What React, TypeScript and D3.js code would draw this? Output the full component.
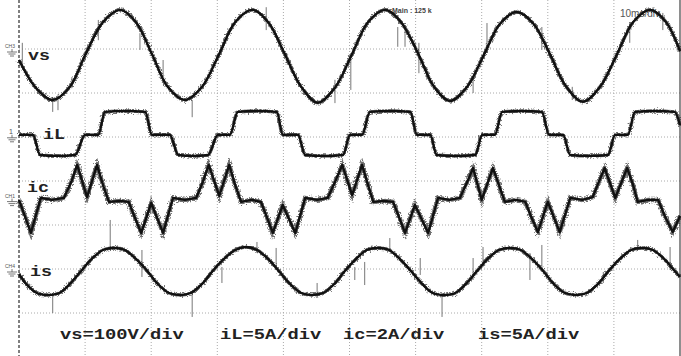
import React from 'react';
import * as d3 from 'd3';

// time in ms (10 ms/div), values in each channel's own unit
const vsData: [number, number][] = [
  [0, -25], [2.6, -89], [5.1, -116], [7.7, -86], [10.1, -11], [12.7, 61], [15.3, 89],
  [17.7, 61], [20.1, -11], [22.5, -86], [25.1, -116], [27.7, -86], [30.3, -11], [32.7, 61],
  [35.3, 89], [37.7, 61], [40.2, -11], [42.7, -86], [45.2, -122], [47.8, -88], [50.4, -11],
  [52.8, 61], [55.4, 89], [57.8, 61], [60.4, -11], [62.8, -86], [65.2, -118], [67.8, -86],
  [70.4, -11], [72.8, 58], [75.3, 84], [77.8, 58], [80.3, -11], [82.8, -86], [85.3, -120],
  [87.9, -86], [90.5, -11], [92.9, 61], [95.5, 89], [97.9, 61], [100, -5],
];

const iLData: [number, number][] = [
  [0, 0], [2.1, 0], [3.2, -2.3], [5.8, -2.4], [8.5, -2.3], [10.0, 0], [12.0, 0], [13.0, 2.6],
  [16.0, 2.7], [19.1, 2.6], [20.1, 0], [22.8, 0], [24.1, -2.3], [26.3, -2.4], [28.6, -2.3],
  [30.1, 0], [31.9, 0], [33.1, 2.6], [36.0, 2.7], [39.0, 2.6], [39.9, 0], [42.2, 0],
  [43.3, -2.3], [46.1, -2.4], [49.0, -2.3], [50.1, 0], [51.9, 0], [53.1, 2.6], [56.1, 2.7],
  [59.2, 2.6], [60.2, 0], [62.2, 0], [63.2, -2.3], [66.1, -2.4], [69.0, -2.3], [70.1, 0],
  [72.0, 0], [73.1, 2.6], [76.1, 2.7], [79.1, 2.6], [80.2, 0], [82.3, 0], [83.4, -2.3],
  [86.2, -2.4], [89.1, -2.3], [90.2, 0], [92.1, 0], [93.2, 2.6], [96.2, 2.7], [99.2, 2.6],
  [100, 1.1],
];

const icData: [number, number][] = [
  [0, -0.06], [1.8, -1.56], [3.3, 0.03], [5.0, -0.06], [6.8, 0.03], [7.9, 0.75], [8.8, 1.53],
  [10.3, 0.07], [11.8, 1.53], [12.7, 0.62], [13.6, -0.15], [15.3, -0.11], [16.6, -0.15],
  [17.5, -0.84], [18.5, -1.56], [20.0, -0.2], [21.8, -1.56], [23.3, 0.03], [25.1, -0.06],
  [26.8, 0.03], [27.8, 0.75], [28.7, 1.53], [30.3, 0.12], [31.8, 1.53], [32.7, 0.62],
  [33.6, -0.15], [35.2, -0.06], [36.6, -0.15], [37.5, -0.84], [38.4, -1.56], [39.9, -0.29],
  [41.8, -1.56], [43.3, 0.03], [45.1, -0.06], [46.7, 0.03], [47.8, 0.75], [48.9, 1.53],
  [50.4, 0.16], [51.9, 1.53], [52.8, 0.62], [53.6, -0.15], [55.2, -0.11], [56.6, -0.15],
  [57.5, -0.84], [58.4, -1.56], [59.9, -0.29], [61.9, -1.56], [63.4, 0.03], [65.1, -0.06],
  [66.7, 0.03], [67.8, 0.75], [68.7, 1.39], [70.0, -0.06], [71.7, 1.39], [72.6, 0.62],
  [73.5, -0.15], [75.2, -0.06], [76.6, -0.15], [77.5, -0.84], [78.5, -1.52], [80.0, -0.15],
  [81.8, -1.52], [83.4, 0.03], [85.2, -0.06], [86.8, 0.07], [87.7, 0.75], [88.6, 1.39],
  [90.2, 0.03], [92.0, 1.39], [92.9, 0.62], [93.6, -0.15], [95.2, -0.06], [96.7, -0.06],
  [97.7, -0.79], [98.9, -1.52], [100, -0.79],
];

const isData: [number, number][] = [
  [0, -0.57], [1.1, -1.7], [2.7, -2.73], [4.4, -2.95], [6.1, -2.73], [7.7, -1.7], [9.4, -0.23],
  [11.0, 1.14], [12.7, 2.16], [14.4, 2.39], [16.0, 2.16], [17.7, 1.14], [19.4, -0.23],
  [21.0, -1.7], [22.7, -2.73], [24.4, -2.95], [26.0, -2.73], [27.7, -1.7], [29.3, -0.23],
  [31.0, 1.14], [32.7, 2.16], [34.3, 2.5], [36.0, 2.16], [37.7, 1.14], [39.3, -0.23],
  [41.0, -1.7], [42.7, -2.73], [44.3, -2.95], [46.0, -2.73], [47.7, -1.7], [49.3, -0.23],
  [51.0, 1.14], [52.6, 2.16], [54.3, 2.39], [56.0, 2.16], [57.6, 1.14], [59.3, -0.23],
  [61.0, -1.7], [62.6, -2.73], [64.3, -2.95], [66.0, -2.73], [67.6, -1.7], [69.3, -0.23],
  [70.9, 1.14], [72.6, 2.16], [74.3, 2.39], [75.9, 2.16], [77.6, 1.14], [79.3, -0.23],
  [80.9, -1.7], [82.6, -2.73], [84.3, -2.95], [85.9, -2.73], [87.6, -1.7], [89.2, -0.23],
  [90.9, 1.14], [92.6, 2.16], [94.2, 2.39], [95.9, 2.16], [97.6, 1.14], [99.2, -0.23],
  [100, -0.91],
];

// [time, top, bottom] of the thin switching spikes
const vsSpikes: [number, number, number][] = [
  [0.5, 14, -41], [5.1, -109, -143], [5.9, -105, -139], [8.0, -64, -89], [12.0, 66, 20],
  [18.3, 36, -2], [21.8, -25, -64], [26.2, -116, -155], [37.4, 95, 43], [40.5, -9, -32],
  [47.8, -70, -123], [50.2, -25, -93], [57.3, 50, 5], [58.4, 36, 5], [60.5, 14, -55],
  [61.7, -41, -70], [68.7, -64, -100], [70.8, 59, -9], [79.1, 50, -2], [83.7, -86, -116],
  [92.4, 59, 14], [97.4, 82, 43],
];

const isSpikes: [number, number, number][] = [
  [13.8, 5.57, 2.16], [5.1, -2.73, -5.0], [18.6, 2.16, -0.91], [26.2, -2.73, -5.45],
  [30.7, 0.23, -1.59], [36.0, 3.07, 1.82], [38.9, 2.39, -0.11], [45.1, -1.59, -3.3],
  [50.8, 0.23, -1.25], [52.3, 0.8, -1.82], [56.1, 3.52, 2.16], [60.7, 1.25, -0.68],
  [64.0, -2.73, -5.45], [68.7, 1.25, -1.25], [70.2, 2.5, 0.23], [77.3, 1.82, -1.25],
  [79.1, 2.73, -0.11], [88.4, -0.34, -1.59], [93.6, 3.3, 2.16], [98.5, 2.5, -0.11],
];

const bottomLabels = ['vs=100V/div', 'iL=5A/div', 'ic=2A/div', 'is=5A/div'];
const bottomLabelX = [60, 220, 343, 478];

const width = 681;
const height = 356;

const x = d3.scaleLinear().domain([0, 100]).range([19, 680]);
const y = d3.scaleLinear().domain([-4, 4]).range([357, 5]);

const channels = [
  {name: 'vs', data: vsData, perDiv: 100, offset: 3.0, curve: d3.curveCatmullRom, marker: 'CH3', labelX: 28, labelY: 60},
  {name: 'iL', data: iLData, perDiv: 5, offset: 1.05, curve: d3.curveMonotoneX, marker: '1', labelX: 43, labelY: 139},
  {name: 'ic', data: icData, perDiv: 2, offset: -0.4, curve: d3.curveLinear, marker: 'CH1', labelX: 27, labelY: 192},
  {name: 'is', data: isData, perDiv: 5, offset: -2.0, curve: d3.curveCatmullRom, marker: 'CH4', labelX: 30, labelY: 276},
];

const mono = '"Liberation Mono", "Courier New", monospace';

const App = () => {
  const vTicks = d3.range(10, 100, 10);
  const hTicks = d3.range(-3, 4);

  return (
    <svg width={width} height={height} style={{position: 'absolute', left: 0, top: 0, background: '#fff'}}>
      <defs>
        <filter id="fuzz" x="-2%" y="-10%" width="104%" height="120%">
          <feTurbulence type="fractalNoise" baseFrequency="0.7 0.9" numOctaves={2} seed={3}/>
          <feDisplacementMap in="SourceGraphic" scale={6} xChannelSelector="R" yChannelSelector="G"/>
        </filter>
      </defs>

      {/* grid */}
      {vTicks.map(t => (
        <line key={'v' + t} x1={x(t)} x2={x(t)} y1={0} y2={height}
              stroke="#aaa" strokeWidth={1} strokeDasharray="1,2"/>
      ))}
      {hTicks.map(d => (
        <line key={'h' + d} x1={19} x2={680} y1={y(d)} y2={y(d)}
              stroke="#aaa" strokeWidth={1} strokeDasharray="1,2"/>
      ))}
      <line x1={x(0)} x2={x(0)} y1={0} y2={height} stroke="#555" strokeWidth={1.5} strokeDasharray="3,2"/>
      <line x1={x(100)} x2={x(100)} y1={0} y2={height} stroke="#444" strokeWidth={1.2}/>

      {/* header texts */}
      <text x={392} y={13} fontFamily="Arial, sans-serif" fontSize={7} fontWeight="bold" fill="#444">Main : 125 k</text>
      <text x={620} y={17} fontFamily="Arial, sans-serif" fontSize={10} fill="#555">10ms/div</text>

      {/* channel markers */}
      {channels.map(c => {
        const my = y(c.offset);
        return (
          <g key={'m' + c.name} fill="#555" stroke="#555">
            <text x={c.marker === '1' ? 9 : 5} y={my - 1} fontSize={c.marker === '1' ? 7 : 5}
                  fontFamily="Arial, sans-serif" stroke="none">{c.marker}</text>
            <line x1={12} x2={12} y1={my} y2={my + 3} strokeWidth={0.8}/>
            <line x1={7} x2={17} y1={my + 3} y2={my + 3} strokeWidth={0.8}/>
            <line x1={8.5} x2={15.5} y1={my + 5} y2={my + 5} strokeWidth={0.8}/>
            <line x1={10} x2={14} y1={my + 7} y2={my + 7} strokeWidth={0.8}/>
          </g>
        );
      })}

      {/* channel labels */}
      {channels.map(c => (
        <text key={'l' + c.name} x={c.labelX} y={c.labelY} fontFamily={mono} fontWeight="bold"
              fontSize={15} textLength={c.name.length * 11} lengthAdjust="spacingAndGlyphs" fill="#222">
          {c.name}
        </text>
      ))}

      {/* spikes */}
      {vsSpikes.map((s, i) => (
        <line key={'vsp' + i} x1={x(s[0])} x2={x(s[0])} y1={y(3.0 + s[1] / 100)} y2={y(3.0 + s[2] / 100)}
              stroke="#777" strokeWidth={1}/>
      ))}
      {isSpikes.map((s, i) => (
        <line key={'isp' + i} x1={x(s[0])} x2={x(s[0])} y1={y(-2.0 + s[1] / 5)} y2={y(-2.0 + s[2] / 5)}
              stroke="#777" strokeWidth={1}/>
      ))}

      {/* traces */}
      {channels.map(c => {
        const line = d3.line<[number, number]>()
          .x(d => x(d[0]))
          .y(d => y(c.offset + d[1] / c.perDiv))
          .curve(c.curve);
        const d = line(c.data) || '';
        return (
          <g key={'t' + c.name}>
            <path d={d} fill="none" stroke="#333" strokeWidth={c.name === 'ic' ? 4.5 : 3.5}
                  strokeOpacity={0.7} filter="url(#fuzz)"/>
            <path d={d} fill="none" stroke="#111" strokeWidth={2.4} strokeLinejoin="round"/>
          </g>
        );
      })}

      {/* scale labels */}
      {bottomLabels.map((t, i) => (
        <text key={'b' + i} x={bottomLabelX[i]} y={339} fontFamily={mono} fontWeight="bold"
              fontSize={15} textLength={t.length * 11.25} lengthAdjust="spacingAndGlyphs" fill="#222">
          {t}
        </text>
      ))}
    </svg>
  );
};

export default App;
